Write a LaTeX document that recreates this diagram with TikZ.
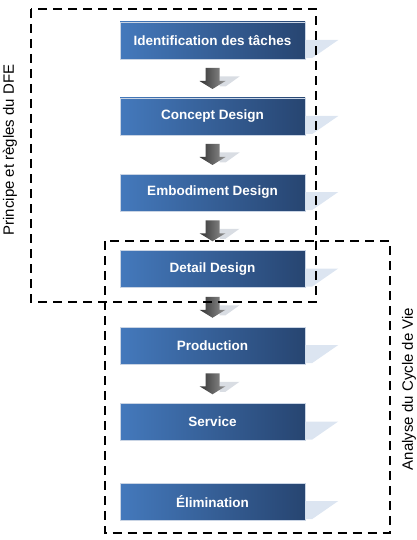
\documentclass[tikz,border=0pt]{standalone}
\usepackage{fontspec}
\setmainfont{Liberation Sans}
\usepackage{tikz}
\usetikzlibrary{calc}
\definecolor{boxleft}{HTML}{4479BC}
\definecolor{boxright}{HTML}{274571}
\definecolor{boxedge}{HTML}{C9D4E4}
\definecolor{boxshade}{HTML}{DCE5F1}
\definecolor{arrshade}{HTML}{D9DDE3}
\tikzset{
  etape/.style={rectangle, minimum width=185pt, minimum height=37pt,
                inner sep=0pt, left color=boxleft, right color=boxright,
                draw=boxedge, line width=0.5pt, text=white,
                font=\fontsize{13.5}{16}\selectfont\bfseries},
  fleche/.style={left color=black!80, right color=black!42},
  cadre/.style={line width=2pt, dash pattern=on 9pt off 6pt},
  lateral/.style={rotate=90, font=\fontsize{15}{18}\selectfont},
}

\begin{document}
\begin{tikzpicture}[x=1pt, y=-1pt]
  \useasboundingbox (0,0) rectangle (417,540);
  % etapes du processus
  \node[etape] (ident)  at (212.5,40.5)  {Identification des tâches};
  \node[etape] (concept) at (212.5,116.5) {Concept Design};
  \node[etape] (embod)  at (212.5,192.5) {Embodiment Design};
  \node[etape] (detail) at (212.5,269)   {Detail Design};
  \node[etape] (prod)   at (212.5,345.5) {Production};
  \node[etape] (serv)   at (212.5,422)   {Service};
  \node[etape] (elim)   at (212.5,501.5) {Élimination};
  % reflets a droite des boites
  \foreach \b in {ident,concept,embod,detail,prod,serv,elim}
    \fill[boxshade] ($(\b.east)+(0,-0.5)$) -- ++(33,0) -- ++(-26,18) -- ++(-7,0) -- cycle;
  % fleches entre les etapes
  \foreach \a/\b in {ident/concept,concept/embod,embod/detail,detail/prod,prod/serv}{
    \coordinate (m\a) at ($(\a.south)!0.5!(\b.north)$);
    \fill[arrshade] ($(m\a)+(7,-2)$) -- ++(20,0) -- ++(-14,10) -- ++(-6,0) -- cycle;
    \shade[fleche] ($(m\a)+(-7,-10.5)$) -- ++(14,0) -- ++(0,13) -- ++(6,0)
      -- ($(m\a)+(0,10.5)$) -- ($(m\a)+(-13,2.5)$) -- ++(6,0) -- cycle;
  }
  % cadres
  \draw[cadre] (31,9) rectangle (316,302);
  \draw[cadre] (104.5,241) rectangle (389.5,533);
  % libelles
  \node[lateral] (dfe) at (10,150) {Principe et règles du DFE};
  \node[lateral] (acv) at (409,389) {Analyse du Cycle de Vie};
\end{tikzpicture}
\end{document}
